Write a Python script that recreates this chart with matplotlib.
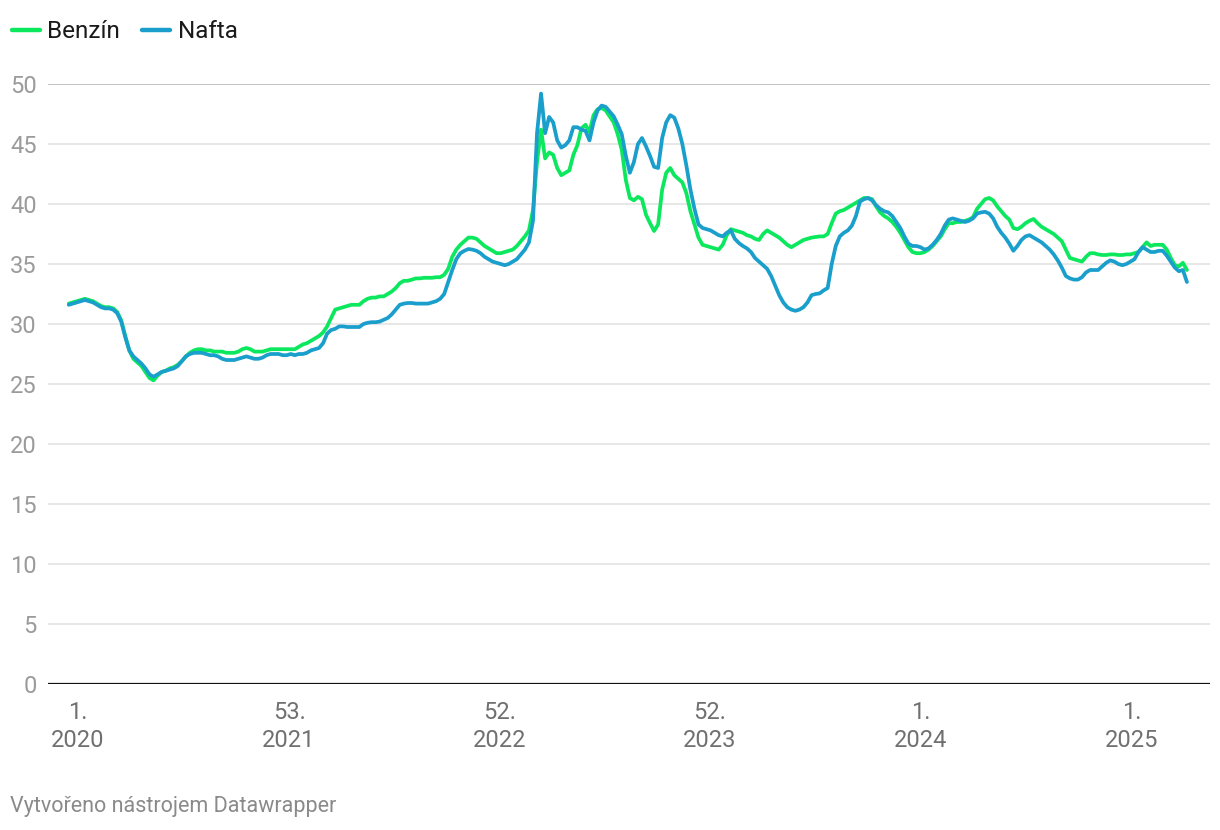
import matplotlib
matplotlib.use("Agg")
import matplotlib.pyplot as plt
from matplotlib.lines import Line2D
import pandas as pd

plt.rcParams['font.family'] = ['Roboto', 'DejaVu Sans']

# weekly prices (CZK/l), first week starts 2019-12-16
benzin = [
    31.7, 31.8, 31.9, 32.0, 32.1, 32.0, 31.9, 31.7, 31.5, 31.4,
    31.4, 31.3, 31.0, 30.3, 29.0, 27.8, 27.1, 26.8, 26.5, 26.0,
    25.5, 25.3, 25.7, 26.0, 26.1, 26.3, 26.4, 26.6, 26.9, 27.3,
    27.6, 27.8, 27.9, 27.9, 27.8, 27.8, 27.7, 27.7, 27.7, 27.6,
    27.6, 27.6, 27.7, 27.9, 28.0, 27.9, 27.7, 27.7, 27.7, 27.8,
    27.9, 27.9, 27.9, 27.9, 27.9, 27.9, 27.9, 28.1, 28.3, 28.4,
    28.6, 28.8, 29.0, 29.3, 29.8, 30.5, 31.2, 31.3, 31.4, 31.5,
    31.6, 31.6, 31.6, 31.9, 32.1, 32.2, 32.2, 32.3, 32.3, 32.5,
    32.7, 33.0, 33.4, 33.6, 33.6, 33.7, 33.8, 33.8, 33.85, 33.85,
    33.85, 33.9, 33.9, 34.1, 34.6, 35.6, 36.2, 36.6, 36.9, 37.2,
    37.2, 37.1, 36.8, 36.5, 36.3, 36.1, 35.9, 35.9, 36.0, 36.1,
    36.2, 36.5, 36.9, 37.3, 37.8, 39.5, 43.5, 46.2, 43.8, 44.3,
    44.1, 43.0, 42.4, 42.6, 42.8, 44.1, 44.9, 46.3, 46.6, 46.0,
    47.4, 47.9, 48.0, 47.8, 47.3, 46.8, 45.8, 44.5, 42.0, 40.5,
    40.3, 40.6, 40.4, 39.1, 38.4, 37.75, 38.3, 41.2, 42.6, 43.0,
    42.4, 42.1, 41.8, 40.9, 39.4, 38.3, 37.2, 36.6, 36.5, 36.4,
    36.3, 36.2, 36.6, 37.4, 37.9, 37.8, 37.7, 37.6, 37.4, 37.3,
    37.1, 37.0, 37.5, 37.8, 37.6, 37.4, 37.2, 36.9, 36.6, 36.4,
    36.6, 36.8, 37.0, 37.1, 37.2, 37.25, 37.3, 37.3, 37.5, 38.4,
    39.2, 39.4, 39.5, 39.7, 39.9, 40.1, 40.3, 40.5, 40.5, 40.4,
    39.8, 39.3, 39.0, 38.8, 38.5, 38.1, 37.6, 37.0, 36.4, 36.0,
    35.9, 35.9, 36.0, 36.2, 36.5, 36.9, 37.3, 37.9, 38.4, 38.4,
    38.5, 38.5, 38.6, 38.7, 38.9, 39.6, 40.0, 40.4, 40.5, 40.3,
    39.8, 39.4, 39.0, 38.7, 38.0, 37.9, 38.1, 38.4, 38.6, 38.75,
    38.4, 38.1, 37.9, 37.7, 37.5, 37.2, 36.9, 36.2, 35.5, 35.4,
    35.3, 35.2, 35.6, 35.9, 35.9, 35.8, 35.75, 35.75, 35.8, 35.8,
    35.75, 35.75, 35.8, 35.8, 35.9, 36.0, 36.4, 36.8, 36.5, 36.6,
    36.6, 36.6, 36.2, 35.5, 34.9, 34.8, 35.1, 34.5,
]

nafta = [
    31.6, 31.7, 31.8, 31.9, 32.0, 31.9, 31.8, 31.6, 31.4, 31.3,
    31.3, 31.2, 30.9, 30.2, 28.9, 27.8, 27.3, 27.0, 26.7, 26.3,
    25.8, 25.6, 25.8, 26.0, 26.1, 26.2, 26.3, 26.5, 26.9, 27.3,
    27.5, 27.6, 27.6, 27.6, 27.5, 27.4, 27.4, 27.3, 27.1, 27.0,
    27.0, 27.0, 27.1, 27.2, 27.3, 27.2, 27.1, 27.1, 27.2, 27.4,
    27.5, 27.5, 27.5, 27.4, 27.4, 27.5, 27.4, 27.5, 27.5, 27.6,
    27.8, 27.9, 28.0, 28.4, 29.2, 29.5, 29.6, 29.8, 29.8, 29.75,
    29.75, 29.75, 29.75, 30.0, 30.1, 30.15, 30.15, 30.2, 30.35, 30.5,
    30.8, 31.2, 31.6, 31.7, 31.75, 31.75, 31.7, 31.7, 31.7, 31.7,
    31.8, 31.9, 32.1, 32.5, 33.5, 34.5, 35.4, 35.9, 36.1, 36.25,
    36.2, 36.1, 35.9, 35.6, 35.4, 35.2, 35.1, 35.0, 34.9, 35.0,
    35.2, 35.4, 35.8, 36.2, 36.8, 38.6, 45.9, 49.2, 45.9, 47.25,
    46.8, 45.3, 44.7, 44.9, 45.3, 46.4, 46.4, 46.2, 46.1, 45.3,
    46.8, 47.8, 48.2, 48.1, 47.7, 47.3, 46.6, 45.8, 44.0, 42.6,
    43.5, 45.0, 45.5, 44.8, 44.0, 43.1, 43.0, 45.5, 46.8, 47.4,
    47.2, 46.3, 45.0, 43.2, 41.2, 39.6, 38.3, 38.0, 37.9, 37.8,
    37.6, 37.4, 37.3, 37.6, 37.8, 37.1, 36.75, 36.5, 36.3, 36.0,
    35.5, 35.2, 34.9, 34.6, 34.0, 33.2, 32.4, 31.8, 31.4, 31.2,
    31.1, 31.2, 31.4, 31.8, 32.4, 32.5, 32.55, 32.8, 33.0, 35.0,
    36.5, 37.3, 37.6, 37.8, 38.2, 39.0, 40.2, 40.4, 40.5, 40.3,
    39.9, 39.6, 39.4, 39.3, 39.0, 38.5, 38.0, 37.3, 36.7, 36.5,
    36.5, 36.4, 36.2, 36.3, 36.6, 37.0, 37.5, 38.2, 38.7, 38.8,
    38.7, 38.6, 38.5, 38.6, 38.8, 39.2, 39.3, 39.35, 39.2, 38.8,
    38.1, 37.6, 37.2, 36.7, 36.1, 36.5, 37.0, 37.3, 37.4, 37.2,
    37.0, 36.8, 36.5, 36.2, 35.8, 35.3, 34.7, 34.0, 33.8, 33.7,
    33.7, 33.9, 34.3, 34.5, 34.5, 34.5, 34.8, 35.1, 35.3, 35.2,
    35.0, 34.9, 35.0, 35.2, 35.4, 36.0, 36.4, 36.2, 36.0, 36.0,
    36.1, 36.1, 35.7, 35.2, 34.7, 34.4, 34.5, 33.5,
]

tick_dates = ['2020-01-01', '2021-01-01', '2022-01-01', '2023-01-01', '2024-01-01', '2025-01-01']
tick_labels = ['1.\n2020', '53.\n2021', '52.\n2022', '52.\n2023', '1.\n2024', '1.\n2025']
y_ticks = [0, 5, 10, 15, 20, 25, 30, 35, 40, 45, 50]

weeks = pd.date_range('2019-12-16', periods=len(benzin), freq='7D')

green = '#0be85e'
blue = '#1a9fcc'

fig = plt.figure(figsize=(12.2, 8.3), dpi=100)
ax = fig.add_axes([48 / 1220, 1 - 684 / 830, 1162 / 1220, 600 / 830])

ax.plot(weeks, benzin, color=green, lw=2.7, solid_capstyle='round', solid_joinstyle='round', clip_on=False, zorder=3)
ax.plot(weeks, nafta, color=blue, lw=2.7, solid_capstyle='round', solid_joinstyle='round', clip_on=False, zorder=4)

ax.set_xlim(pd.Timestamp('2019-11-10'), pd.Timestamp('2025-05-17'))
ax.set_ylim(0, 50)

for v in y_ticks[1:]:
    ax.axhline(v, color='#b9b9b9' if v == 50 else '#e3e3e3', lw=1.2, zorder=1)
ax.axhline(0, color='#111111', lw=1.6, zorder=5)

for s in ax.spines.values():
    s.set_visible(False)

ax.set_yticks(y_ticks)
ax.set_yticklabels([str(v) for v in y_ticks])
ax.tick_params(axis='y', length=0, pad=8, labelsize=17, labelcolor='#9b9b9b')

ax.set_xticks(pd.to_datetime(tick_dates))
ax.set_xticklabels(tick_labels, linespacing=1.3)
ax.tick_params(axis='x', length=0, pad=12, labelsize=17, labelcolor='#707070')

# legend
fig.add_artist(Line2D([12 / 1220, 40 / 1220], [1 - 30 / 830] * 2, color=green, lw=3.2, solid_capstyle='round'))
fig.text(47 / 1220, 1 - 31 / 830, 'Benzín', fontsize=17.5, color='#1a1a1a', va='center')
fig.add_artist(Line2D([142 / 1220, 170 / 1220], [1 - 30 / 830] * 2, color=blue, lw=3.2, solid_capstyle='round'))
fig.text(178 / 1220, 1 - 31 / 830, 'Nafta', fontsize=17.5, color='#1a1a1a', va='center')

fig.text(10 / 1220, 1 - 806 / 830, 'Vytvořeno nástrojem Datawrapper', fontsize=15.5, color='#8a8a8a', va='center')

fig.savefig('out.png', dpi=100)
